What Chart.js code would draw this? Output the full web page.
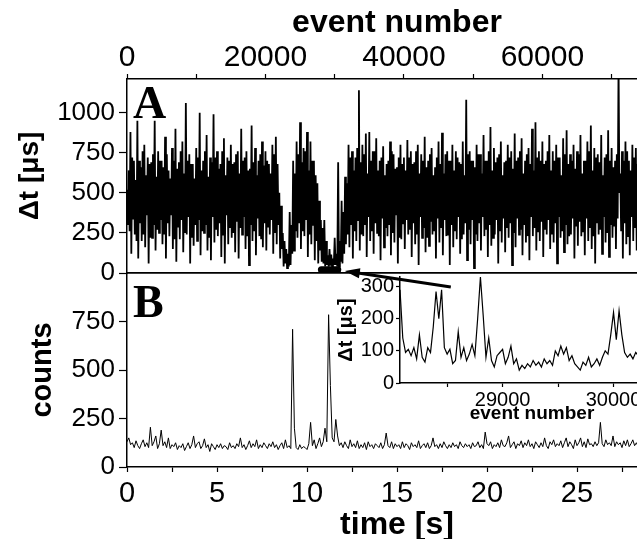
<!DOCTYPE html>
<html>
<head>
<meta charset="utf-8">
<script src="https://cdn.jsdelivr.net/npm/chart.js@4.4.1/dist/chart.umd.min.js"></script>
<style>
  html, body { margin: 0; padding: 0; background: #fff; overflow: hidden; width: 637px; height: 539px; }
  canvas { position: absolute; }
</style>
</head>
<body>
<canvas id="chartB" width="700" height="285" style="left:0;top:265px"></canvas>
<canvas id="chartA" width="700" height="300" style="left:0;top:0"></canvas>
<canvas id="inset" width="345" height="170" style="left:330px;top:260px"></canvas>
<script>
// panel A: delay between events, four readings per 500 events
// (high, low, second high, second low)
const EVENTS_PER_BIN = 500;
const dtPeak = [
  520, 880, 700, 950, 660, 800, 720, 690, 950, 760,
  700, 850, 640, 780, 900, 690, 820, 1060, 740, 680,
  780, 1000, 700, 860, 720, 990, 760, 680, 840, 720,
  800, 690, 760, 900, 720, 640, 920, 780, 700, 820,
  760, 680, 800, 850, 500, 250, 150, 380, 700, 820,
  940, 780, 880, 820, 700, 560, 330, 330, 110, 115,
  220, 690, 450, 600, 800, 760, 720, 1140, 800, 870,
  880, 760, 840, 700, 790, 680, 820, 740, 660, 800,
  720, 830, 760, 690, 800, 740, 850, 700, 780, 660,
  820, 875, 740, 700, 800, 760, 690, 820, 1080, 760,
  700, 800, 740, 860, 700, 910, 780, 720, 820, 690,
  800, 760, 870, 720, 840, 700, 780, 900, 940, 760,
  820, 700, 860, 760, 800, 720, 840, 890, 740, 800,
  760, 860, 700, 820, 920, 780, 740, 860, 720, 890,
  780, 700, 1300, 760, 820, 700, 800, 780,
  760, 820, 700, 800, 740, 780, 700, 760
];
const dtDip = [
  300, 120, 240, 90, 200, 160, 60, 220, 140, 250,
  180, 90, 230, 150, 70, 210, 130, 240, 60, 170,
  200, 110, 250, 140, 80, 190, 230, 100, 60, 180,
  220, 130, 90, 240, 150, 50, 200, 110, 230, 160,
  140, 240, 120, 180, 90, 40, 30, 50, 140, 220,
  150, 230, 100, 180, 80, 60, 70, 40, 40, 40,
  50, 40, 60, 180, 160, 90, 200, 140, 230, 100,
  200, 120, 250, 80, 160, 230, 110, 190, 60, 210,
  150, 240, 100, 180, 50, 220, 130, 170, 240, 90,
  190, 110, 230, 50, 160, 210, 120, 240, 80, 180,
  30, 200, 140, 230, 100, 170, 240, 60, 190, 130,
  220, 50, 160, 240, 110, 190, 80, 230, 140, 200,
  100, 240, 150, 190, 60, 220, 130, 180, 240, 90,
  170, 230, 110, 200, 150, 60, 240, 120, 190, 100,
  220, 150, 500, 90, 180, 110, 200, 140,
  160, 220, 120, 190, 140, 200, 110, 170
];
const dtPeak2 = [
  640, 720, 580, 700, 760, 610, 680, 740, 600, 700,
  660, 740, 590, 700, 650, 760, 620, 700, 680, 590,
  720, 640, 760, 600, 690, 720, 650, 760, 610, 700,
  680, 740, 620, 700, 760, 650, 690, 610, 740, 670,
  700, 620, 740, 680, 420, 200, 120, 300, 620, 740,
  690, 760, 640, 700, 610, 450, 280, 200, 150, 90,
  120, 200, 380, 560, 720, 640, 780, 690, 740, 620,
  700, 760, 640, 720, 610, 700, 760, 650, 720, 680,
  640, 720, 680, 760, 620, 700, 660, 740, 610, 720,
  680, 620, 760, 700, 640, 720, 680, 610, 740, 700,
  660, 740, 620, 700, 760, 640, 690, 740, 610, 700,
  720, 650, 700, 760, 620, 740, 680, 640, 720, 700,
  680, 760, 640, 700, 720, 610, 740, 680, 700, 650,
  740, 620, 700, 760, 640, 720, 690, 610, 740, 700,
  660, 740, 620, 700, 760, 640, 720, 680,
  700, 640, 720, 680, 760, 620, 700, 680
];
const dtDip2 = [
  260, 340, 200, 310, 240, 360, 220, 300, 270, 330,
  240, 310, 360, 210, 290, 330, 250, 350, 220, 300,
  330, 260, 300, 220, 350, 270, 310, 240, 360, 280,
  250, 320, 280, 350, 230, 300, 260, 340, 210, 310,
  290, 330, 250, 300, 150, 60, 40, 120, 260, 310,
  260, 330, 240, 300, 200, 140, 60, 50, 45, 50,
  40, 70, 120, 240, 300, 260, 330, 240, 300, 350,
  260, 310, 230, 340, 280, 300, 250, 360, 220, 310,
  330, 270, 310, 240, 350, 280, 220, 320, 260, 340,
  280, 330, 240, 300, 260, 350, 210, 310, 270, 330,
  240, 310, 350, 270, 300, 220, 330, 260, 340, 280,
  310, 250, 340, 270, 300, 230, 350, 280, 260, 320,
  270, 330, 240, 310, 350, 260, 300, 230, 340, 290,
  320, 260, 340, 280, 230, 310, 270, 350, 250, 300,
  290, 340, 260, 310, 230, 350, 280, 320,
  260, 330, 280, 300, 240, 340, 270, 310
];

// panel B: counts per 0.1 s
const TIME_STEP = 0.1;
const counts = [
  130, 150, 115, 125, 100, 135, 110, 95, 120, 140,
  105, 125, 100, 205, 110, 130, 160, 95, 120, 190,
  110, 130, 100, 150, 95, 115, 105, 125, 90, 110,
  100, 120, 85, 105, 125, 95, 115, 160, 100, 120,
  130, 95, 110, 145, 100, 115, 80, 120, 105, 90,
  115, 100, 120, 95, 110, 105, 90, 125, 100, 110,
  95, 120, 105, 150, 100, 115, 90, 110, 135, 100,
  120, 105, 140, 95, 115, 100, 125, 110, 95, 120,
  105, 130, 100, 115, 90, 110, 125, 95, 140, 100,
  110, 95, 710, 200, 100, 90, 115, 95, 105, 100,
  90, 120, 230, 110, 140, 95, 120, 150, 105, 130,
  200, 130, 785, 420, 150, 130, 245, 160, 110, 125,
  100, 130, 110, 95, 140, 105, 120, 100, 135, 95,
  115, 100, 125, 90, 130, 105, 115, 95, 120, 110,
  100, 125, 95, 115, 175, 110, 100, 130, 95, 120,
  105, 115, 95, 130, 100, 120, 110, 90, 125, 105,
  115, 100, 135, 95, 110, 120, 100, 125, 95, 110,
  150, 105, 115, 95, 120, 100, 130, 110, 95, 115,
  100, 125, 105, 115, 95, 130, 110, 100, 120, 105,
  115, 95, 125, 105, 110, 130, 100, 115, 95, 180,
  120, 110, 130, 95, 115, 105, 125, 100, 140, 110,
  105, 125, 160, 100, 115, 130, 95, 120, 110, 135,
  100, 125, 110, 140, 105, 120, 95, 130, 115, 100,
  125, 105, 150, 110, 95, 130, 115, 140, 105, 120,
  110, 135, 100, 125, 150, 105, 130, 115, 95, 140,
  110, 125, 150, 105, 130, 100, 145, 115, 120, 105,
  130, 110, 125, 230, 120, 105, 140, 115, 125, 110,
  160, 105, 130, 115, 125, 100, 135, 110, 140, 105,
  120, 140, 110, 125, 105, 130, 115, 120, 110, 135,
  115, 125, 105, 130, 110, 120, 100, 125, 115, 110
];

// inset: zoom on the low-delay stretch, every 25 events
const INSET_START = 28075;
const INSET_STEP = 25;
const insetDt = [
  290, 140, 95, 105, 85, 110, 75, 150, 80, 65,
  110, 95, 175, 285, 200, 290, 110, 90, 105, 60,
  70, 160, 80, 110, 70, 90, 120, 85, 200, 330,
  210, 80, 140, 70, 50, 85, 95, 105, 60, 80,
  115, 60, 75, 40, 55, 45, 60, 50, 70, 55,
  65, 50, 75, 60, 70, 55, 100, 85, 115, 90,
  110, 70, 85, 60, 50, 40, 65, 55, 80, 50,
  60, 75, 55, 80, 100, 90, 150, 220, 135, 225,
  150, 95, 80, 90, 75, 95, 85, 90, 80, 95,
  85, 100, 90, 85, 95, 80
];

const eventTicks = [0, 10000, 20000, 30000, 40000, 50000, 60000, 70000];
const dtTicks = [0, 250, 500, 750, 1000];
const timeTicks = [0, 2.5, 5, 7.5, 10, 12.5, 15, 17.5, 20, 22.5, 25, 27.5, 30];
const countTicks = [0, 250, 500, 750];
const insetEventTicks = [28500, 29000, 29500, 30000];
const insetDtTicks = [0, 100, 200, 300];

const black = "#000";
Chart.defaults.color = black;
Chart.defaults.font.family = '"Liberation Sans", Arial, sans-serif';
Chart.defaults.animation = false;

const insetEnd = INSET_START + (insetDt.length - 1) * INSET_STEP;

// zigzag through the readings so the trace looks like the dense raw record
const bandPoints = [];
dtPeak.forEach((v, i) => {
  const x0 = i * EVENTS_PER_BIN, q = EVENTS_PER_BIN / 4;
  bandPoints.push({ x: x0, y: v });
  bandPoints.push({ x: x0 + q, y: dtDip[i] });
  bandPoints.push({ x: x0 + 2 * q, y: dtPeak2[i] });
  bandPoints.push({ x: x0 + 3 * q, y: dtDip2[i] });
});
// thick mark in panel A for the stretch shown in the inset
const markPoints = [{ x: INSET_START, y: 20 }, { x: insetEnd, y: 20 }];

const countPoints = counts.map((v, i) => ({ x: +(i * TIME_STEP).toFixed(1), y: v }));
const insetPoints = insetDt.map((v, i) => ({ x: INSET_START + i * INSET_STEP, y: v }));

const setTicks = (list) => (axis) => { axis.ticks = list.map((v) => ({ value: v })); };
const fixSize = (prop, size) => (axis) => {
  axis[prop] = size;
  axis.paddingTop = 0; axis.paddingBottom = 0; axis.paddingLeft = 0; axis.paddingRight = 0;
};

const panelLabel = {
  id: "panelLabel",
  afterDraw(chart, args, opts) {
    if (!opts.text) return;
    const { ctx, chartArea } = chart;
    ctx.save();
    ctx.font = 'bold 46px "Liberation Serif", "Times New Roman", serif';
    ctx.fillStyle = black;
    ctx.textBaseline = "alphabetic";
    ctx.fillText(opts.text, chartArea.left + 6, chartArea.top + opts.dy);
    ctx.restore();
  }
};

const arrow = {
  id: "arrow",
  afterDraw(chart) {
    const { ctx, scales } = chart;
    const tipX = scales.x.getPixelForValue(insetEnd) + 7;
    const tipY = scales.y.getPixelForValue(0) - 2;
    const tailX = tipX + 106, tailY = tipY + 16;
    const ang = Math.atan2(tailY - tipY, tailX - tipX);
    ctx.save();
    ctx.strokeStyle = black;
    ctx.fillStyle = black;
    ctx.lineWidth = 3;
    ctx.beginPath();
    ctx.moveTo(tailX, tailY);
    ctx.lineTo(tipX + 10 * Math.cos(ang), tipY + 10 * Math.sin(ang));
    ctx.stroke();
    ctx.beginPath();
    ctx.moveTo(tipX, tipY);
    ctx.lineTo(tipX + 15 * Math.cos(ang) - 5 * Math.sin(ang), tipY + 15 * Math.sin(ang) + 5 * Math.cos(ang));
    ctx.lineTo(tipX + 15 * Math.cos(ang) + 5 * Math.sin(ang), tipY + 15 * Math.sin(ang) - 5 * Math.cos(ang));
    ctx.closePath();
    ctx.fill();
    ctx.restore();
  }
};

const gridOpts = (len) => ({ drawOnChartArea: false, tickLength: len, color: black, tickColor: black, tickWidth: 1.2 });
const borderOpts = { color: black, width: 1.5 };

// panel A
new Chart(document.getElementById("chartA"), {
  type: "line",
  data: {
    datasets: [
      { data: markPoints, xAxisID: "x", yAxisID: "y", borderColor: black, borderWidth: 7,
        borderCapStyle: "round", pointRadius: 0, order: 0 },
      { data: bandPoints, xAxisID: "x", yAxisID: "y", borderColor: black, borderWidth: 1.8,
        pointRadius: 0, order: 1 }
    ]
  },
  options: {
    responsive: false,
    events: [],
    layout: { padding: { top: 0, left: 0, right: 33, bottom: 0 } },
    plugins: { legend: { display: false }, tooltip: { enabled: false }, panelLabel: { text: "A", dy: 39 } },
    scales: {
      x: {
        type: "linear", position: "top", min: 0, max: 78000,
        afterBuildTicks: setTicks(eventTicks),
        afterFit: fixSize("height", 79),
        ticks: { autoSkip: false, maxRotation: 0, padding: -2, font: { size: 30 },
          callback: (v) => (v % 20000 === 0 ? String(v) : "") },
        grid: gridOpts(5), border: borderOpts,
        title: { display: true, text: "event number", font: { size: 32, weight: "bold" }, padding: { top: 4, bottom: 0 } }
      },
      xb: {
        type: "linear", position: "bottom", min: 0, max: 78000,
        ticks: { display: false }, grid: { display: false }, border: borderOpts,
        afterFit: fixSize("height", 27)
      },
      y: {
        type: "linear", min: 0, max: 1210,
        afterBuildTicks: setTicks(dtTicks),
        afterFit: fixSize("width", 127),
        ticks: { padding: 4, font: { size: 26 }, callback: (v) => String(v) },
        grid: gridOpts(8), border: borderOpts,
        title: { display: true, text: "Δt [μs]", font: { size: 28, weight: "bold" }, padding: { top: 13, bottom: 0 } }
      }
    }
  },
  plugins: [panelLabel, arrow]
});

// panel B
new Chart(document.getElementById("chartB"), {
  type: "line",
  data: {
    datasets: [
      { data: countPoints, xAxisID: "x", yAxisID: "y", borderColor: black, borderWidth: 1, pointRadius: 0 }
    ]
  },
  options: {
    responsive: false,
    events: [],
    layout: { padding: { top: 0, left: 0, right: 33, bottom: 0 } },
    plugins: { legend: { display: false }, tooltip: { enabled: false }, panelLabel: { text: "B", dy: 44 } },
    scales: {
      x: {
        type: "linear", position: "bottom", min: 0, max: 30,
        afterBuildTicks: setTicks(timeTicks),
        afterFit: fixSize("height", 83),
        ticks: { autoSkip: false, maxRotation: 0, padding: 5, font: { size: 29 },
          callback: (v) => (v % 5 === 0 ? String(v) : "") },
        grid: gridOpts(5), border: borderOpts,
        title: { display: true, text: "time [s]", font: { size: 32, weight: "bold" }, padding: { top: 0, bottom: 6 } }
      },
      xt: {
        type: "linear", position: "top", min: 0, max: 30,
        ticks: { display: false }, grid: { display: false }, border: borderOpts,
        afterFit: fixSize("height", 8)
      },
      y: {
        type: "linear", min: 0, max: 1000,
        afterBuildTicks: setTicks(countTicks),
        afterFit: fixSize("width", 127),
        ticks: { padding: 4, font: { size: 26 }, callback: (v) => String(v) },
        grid: gridOpts(8), border: borderOpts,
        title: { display: true, text: "counts", font: { size: 29, weight: "bold" }, padding: { top: 26, bottom: 0 } }
      }
    }
  },
  plugins: [panelLabel]
});

// inset
new Chart(document.getElementById("inset"), {
  type: "line",
  data: {
    datasets: [
      { data: insetPoints, borderColor: black, borderWidth: 1.2, pointRadius: 0 }
    ]
  },
  options: {
    responsive: false,
    events: [],
    layout: { padding: { top: 17, left: 0, right: 11, bottom: 0 } },
    plugins: { legend: { display: false }, tooltip: { enabled: false } },
    scales: {
      x: {
        type: "linear", min: INSET_START, max: 30455,
        afterBuildTicks: setTicks(insetEventTicks),
        afterFit: fixSize("height", 47),
        ticks: { autoSkip: false, maxRotation: 0, padding: 1, font: { size: 20 },
          callback: (v) => (v % 1000 === 0 ? String(v) : "") },
        grid: gridOpts(4), border: borderOpts,
        title: { display: true, text: "event number", font: { size: 19, weight: "bold" }, padding: { top: 0, bottom: 5 } }
      },
      y: {
        type: "linear", min: 0, max: 330,
        afterBuildTicks: setTicks(insetDtTicks),
        afterFit: fixSize("width", 70),
        ticks: { padding: 2, font: { size: 20 }, callback: (v) => String(v) },
        grid: gridOpts(4), border: borderOpts,
        title: { display: true, text: "Δt [μs]", font: { size: 20, weight: "bold" }, padding: { top: 4, bottom: 0 } }
      }
    }
  }
});
</script>
</body>
</html>
